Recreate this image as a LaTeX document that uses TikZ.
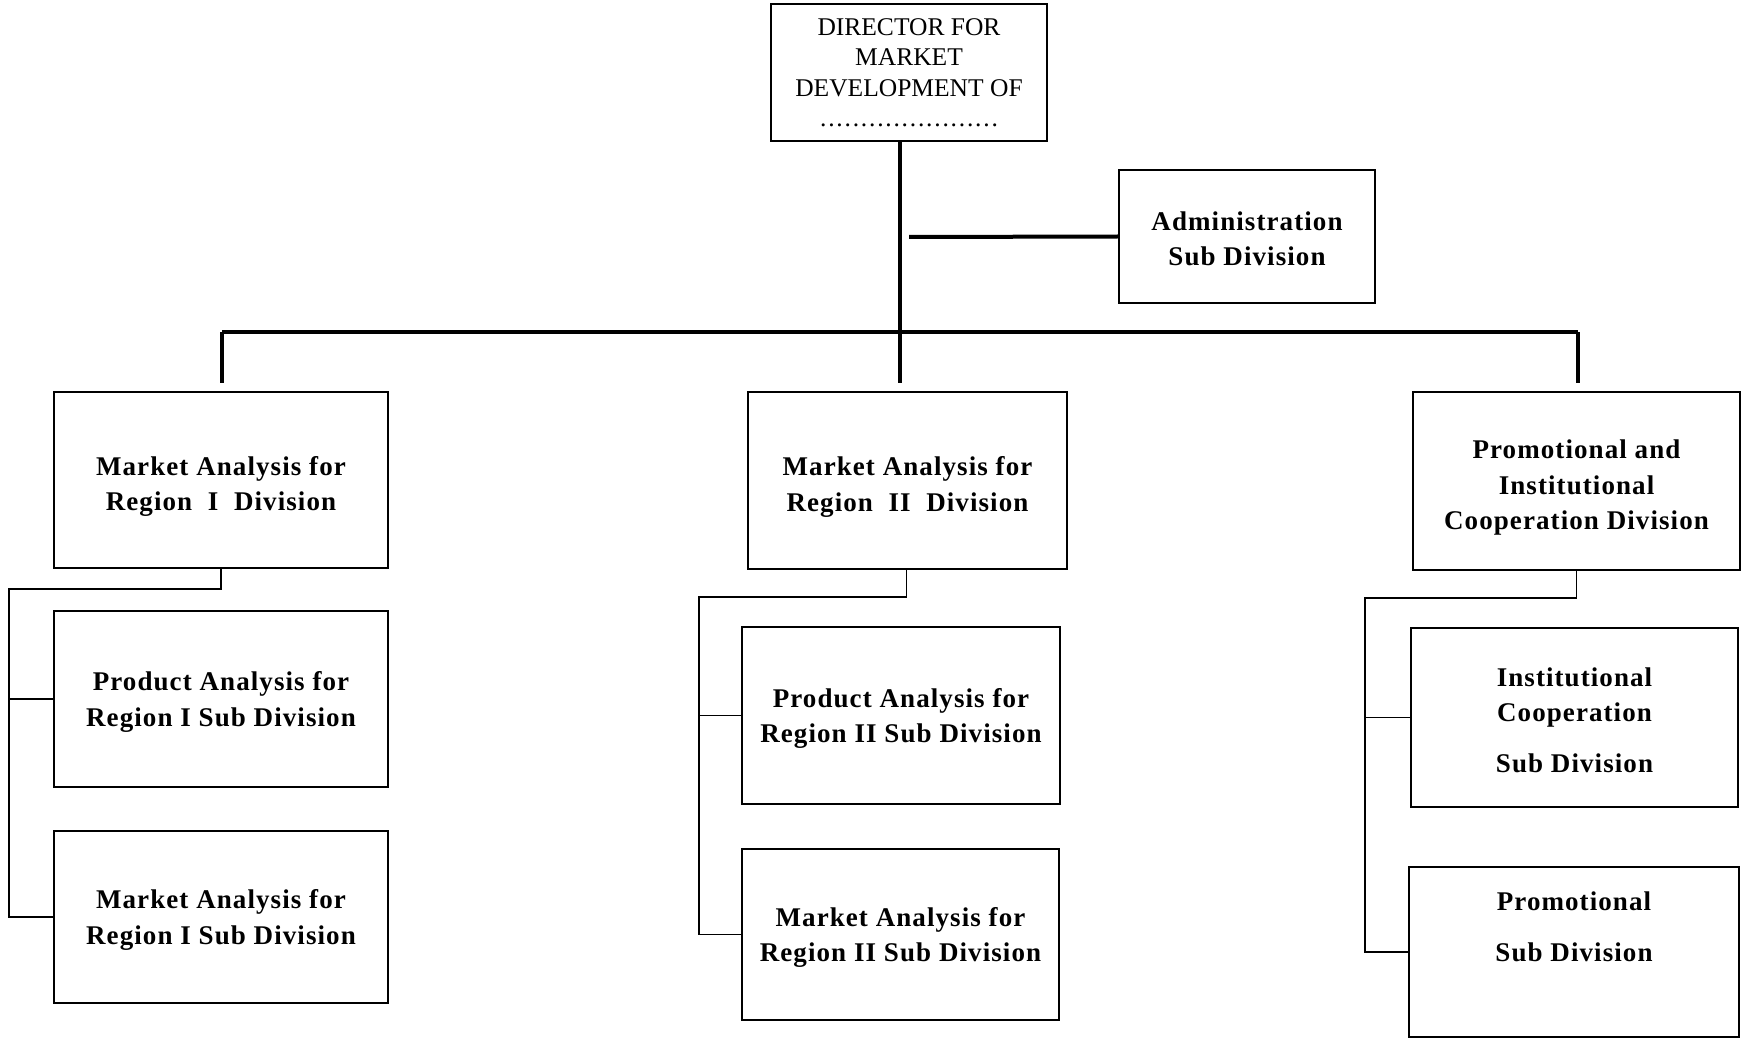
\documentclass[tikz,border=0pt]{standalone}
\usepackage{fontspec}
\setmainfont{Liberation Serif}
\newfontfamily\boxfont[LetterSpace=4]{Liberation Serif}
\newfontfamily\dotfont[LetterSpace=7]{Liberation Serif}
\newcommand\topst{\rule{0pt}{25pt}}
\newcommand\topdv{\rule{0pt}{32pt}}
\newcommand\botst{\rule[-1.5pt]{0pt}{1.5pt}}
\begin{document}
\begin{tikzpicture}[x=1pt,y=-1pt,
  txt/.style={inner sep=0pt,align=center,
    font=\boxfont\bfseries\fontsize{27}{35.5}\selectfont},
  box/.style={txt,draw,line width=1.8pt},
  dirbox/.style={draw,line width=1.6pt,inner sep=0pt,align=center,
    font=\fontsize{25.5}{30.5}\selectfont},
  heavy/.style={line width=4pt},
  thin/.style={line width=1.5pt}]
\useasboundingbox (0,0) rectangle (1742,1040);
\fill[white] (0,0) rectangle (1742,1040);

% top
\node[dirbox,minimum width=276pt,minimum height=137pt] (dir) at (909,72.5)
  {DIRECTOR FOR\\MARKET\\DEVELOPMENT OF\\{\dotfont ......................}};
\node[box,minimum width=256pt,minimum height=133pt] (adm) at (1247,236.5)
  {\topst Administration\\Sub Division\botst};

% divisions
\node[box,minimum width=334pt,minimum height=176pt] (d1) at (221,480)
  {\topdv Market Analysis for\\Region~~I~~Division\botst};
\node[box,minimum width=319pt,minimum height=177pt] (d2) at (907.5,480.5)
  {\topdv Market Analysis for\\Region~~II~~Division\botst};
\node[box,minimum width=327pt,minimum height=178pt] (d3) at (1576.5,481)
  {\topdv Promotional and\\Institutional\\Cooperation Division\botst};

% sub divisions
\node[box,minimum width=334pt,minimum height=176pt] (p1) at (221,699)
  {\topst Product Analysis for\\Region I Sub Division\botst};
\node[box,minimum width=334pt,minimum height=172pt] (m1) at (221,917)
  {\topst Market Analysis for\\Region I Sub Division\botst};
\node[box,minimum width=318pt,minimum height=177pt] (p2) at (901,715.5)
  {\topst Product Analysis for\\Region II Sub Division\botst};
\node[box,minimum width=317pt,minimum height=171pt] (m2) at (900.5,934.5)
  {\topst Market Analysis for\\Region II Sub Division\botst};
\node[box,minimum width=327pt,minimum height=179pt] (i3) at (1574.5,717.5)
  {\topst Institutional\\Cooperation\\[15pt]Sub Division\botst};
\node[draw,line width=1.8pt,minimum width=330pt,minimum height=170pt] (s3) at (1574,952) {};
\node[txt] (s3t) at (1574,924) {\topst Promotional\\[16pt]Sub Division\botst};

% heavy connectors
\coordinate (top) at ([xshift=-9pt]dir.south);
\coordinate (bl) at (222,332);
\coordinate (br) at (1578,332);
\coordinate (ah) at (909,237);
\draw[heavy] (top) -- ([yshift=8pt]top |- d2.north);
\draw[heavy] (bl) -- (br);
\draw[heavy] (bl) -- ([yshift=8pt]bl |- d1.north);
\draw[heavy] (br) -- ([yshift=8pt]br |- d3.north);
\draw[heavy] (ah) -- (adm.west);

% thin connectors
\coordinate (j1) at (9,589);
\coordinate (j2) at (699,597);
\coordinate (j3) at (1365,598);
\draw[thin] (d1.south) |- (j1) |- (m1.west);
\draw[thin] (j1 |- p1.west) -- (p1.west);
\draw[thin] ([xshift=-1pt]d2.south) |- (j2) |- (m2.west);
\draw[thin] (j2 |- p2.west) -- (p2.west);
\draw[thin] (d3.south) |- (j3) |- (s3.west);
\draw[thin] (j3 |- i3.west) -- (i3.west);
\end{tikzpicture}
\end{document}
